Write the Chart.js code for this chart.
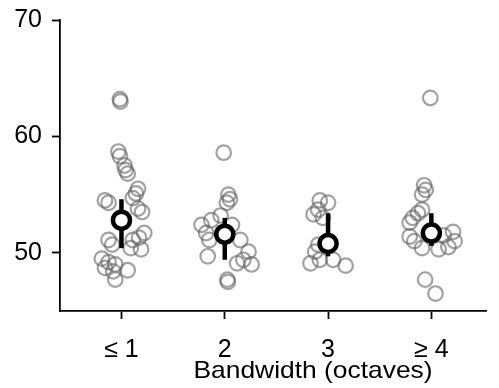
<!DOCTYPE html>
<html>
<head>
<meta charset="utf-8">
<script src="https://cdn.jsdelivr.net/npm/chart.js@4"></script>
<style>
html, body { margin: 0; padding: 0; background: #fff; }
</style>
</head>
<body>
<canvas id="bwChart" width="499" height="388"></canvas>
<script>
// category labels + axis text
const xTickLabels = ['≤ 1', '2', '3', '≥ 4'];
const xPositions = [1, 2, 3, 4];
const yTicks = [50, 60, 70];
const xAxisTitle = 'Bandwidth (octaves)';

// individual points per bandwidth group (values + horizontal jitter)
const le1Values  = [63.2, 63.0, 58.7, 58.3, 57.5, 57.1, 56.8, 55.5, 55.1, 54.7, 54.5, 54.3, 53.5, 53.8,
                    51.7, 51.3, 51.1, 51.1, 50.7, 50.3, 50.4, 49.5, 49.2, 49.0, 48.7, 48.4, 48.5, 47.7];
const le1Offsets = [-0.015, -0.01, -0.03, -0.015, 0.03, 0.04, 0.06, 0.16, 0.14, 0.11, -0.16, -0.125, 0.2, 0.16,
                    0.22, 0.17, 0.11, -0.125, -0.09, 0.19, 0.09, -0.19, -0.125, -0.06, -0.16, -0.08, 0.06, -0.06];

const bw2Values  = [58.6, 55.0, 54.6, 54.3, 52.4, 52.8, 53.2, 51.7, 51.1, 51.1, 52.4, 49.7, 50.1, 49.4, 49.1, 49.0, 47.7, 47.5];
const bw2Offsets = [-0.01, 0.035, 0.05, 0.02, -0.225, -0.13, -0.04, -0.18, -0.15, 0.15, 0.07, -0.165, 0.23, 0.18, 0.12, 0.26, 0.025, 0.03];

const bw3Values  = [54.5, 54.3, 53.7, 53.3, 53.0, 50.7, 50.1, 49.1, 49.4, 49.4, 48.9];
const bw3Offsets = [-0.08, 0.0, -0.095, -0.14, -0.05, -0.095, -0.125, -0.17, -0.08, 0.05, 0.17];

const ge4Values  = [63.3, 55.8, 55.4, 55.0, 53.7, 53.4, 53.0, 52.6, 51.4, 51.0, 50.4, 50.3, 50.5, 51.8, 51.0, 51.5, 47.7, 46.5];
const ge4Offsets = [-0.01, -0.07, -0.055, -0.09, -0.09, -0.13, -0.18, -0.21, -0.21, -0.165, -0.09, 0.07, 0.165, 0.21, 0.225, 0.12, -0.06, 0.04];

// group means and error bars
const meanValues = [52.8, 51.6, 50.8, 51.7];
const errLow     = [50.4, 49.4, 49.7, 50.6];
const errHigh    = [54.6, 53.0, 53.4, 53.4];

const groups = [
    [le1Values, le1Offsets],
    [bw2Values, bw2Offsets],
    [bw3Values, bw3Offsets],
    [ge4Values, ge4Offsets]
];

const FONT = '"Liberation Sans", Arial, sans-serif';

let scatterPoints = [];
groups.forEach(([vals, offs], i) => {
    vals.forEach((v, j) => scatterPoints.push({ x: xPositions[i] + offs[j], y: v }));
});

const meanPoints = meanValues.map((m, i) => ({ x: xPositions[i], y: m }));

const errorDatasets = xPositions.map((x, i) => ({
    data: [{ x: x, y: errLow[i] }, { x: x, y: errHigh[i] }],
    showLine: true,
    borderColor: '#000',
    borderWidth: 4.5,
    pointRadius: 0,
    borderCapStyle: 'butt',
    clip: false,
    order: 1
}));

// axis title drawn slightly stretched like the original figure
const axisTitlePlugin = {
    id: 'axisTitle',
    afterDraw(chart) {
        const ctx = chart.ctx;
        ctx.save();
        ctx.font = '24px ' + FONT;
        ctx.fillStyle = '#000';
        ctx.textAlign = 'center';
        ctx.textBaseline = 'alphabetic';
        ctx.translate(313, 378);
        ctx.scale(1.1, 1);
        ctx.fillText(xAxisTitle, 0, 0);
        ctx.restore();
    }
};

const axisGrid = {
    drawOnChartArea: false,
    drawTicks: true,
    tickLength: 8,
    tickWidth: 1.8,
    tickColor: '#000'
};

new Chart(document.getElementById('bwChart').getContext('2d'), {
    type: 'scatter',
    data: {
        datasets: [
            {
                data: meanPoints,
                pointRadius: 8.5,
                pointBorderWidth: 4.5,
                pointBorderColor: '#000',
                pointBackgroundColor: '#fff',
                clip: false,
                order: 0
            },
            ...errorDatasets,
            {
                data: scatterPoints,
                pointRadius: 7.3,
                pointBorderWidth: 2.2,
                pointBorderColor: 'rgba(95, 95, 95, 0.58)',
                pointBackgroundColor: 'rgba(0,0,0,0)',
                clip: false,
                order: 2
            }
        ]
    },
    options: {
        responsive: false,
        animation: false,
        devicePixelRatio: 1,
        layout: { padding: { top: 20, right: 0, left: 0, bottom: 0 } },
        plugins: {
            legend: { display: false },
            tooltip: { enabled: false }
        },
        scales: {
            x: {
                type: 'linear',
                min: 0.405,
                max: 4.529,
                grid: axisGrid,
                border: { display: true, color: '#000', width: 1.8 },
                afterBuildTicks: scale => { scale.ticks = xPositions.map(v => ({ value: v })); },
                afterFit: scale => { scale.height = 77; },
                ticks: {
                    padding: 16,
                    color: '#000',
                    font: { family: FONT, size: 25 },
                    callback: v => xTickLabels[xPositions.indexOf(v)]
                }
            },
            y: {
                min: 45,
                max: 70,
                grid: axisGrid,
                border: { display: true, color: '#000', width: 1.8 },
                afterBuildTicks: scale => { scale.ticks = yTicks.map(v => ({ value: v })); },
                afterFit: scale => { scale.width = 60; },
                ticks: {
                    padding: 10,
                    color: '#000',
                    font: { family: FONT, size: 25, lineHeight: 0.8 }
                }
            }
        }
    },
    plugins: [axisTitlePlugin]
});
</script>
</body>
</html>
